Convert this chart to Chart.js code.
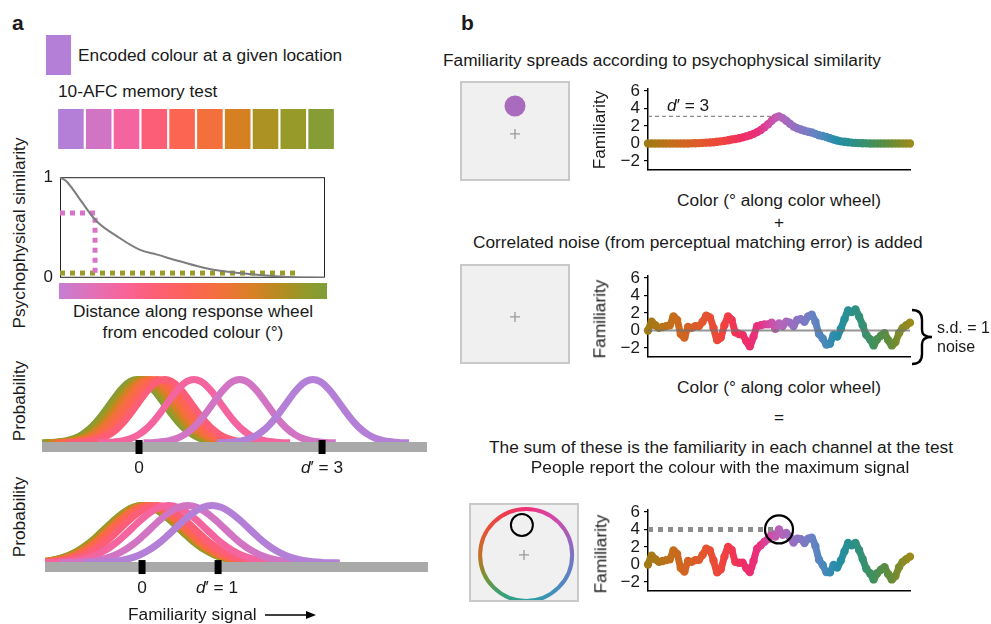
<!DOCTYPE html>
<html>
<head>
<meta charset="utf-8">
<script src="https://cdn.jsdelivr.net/npm/chart.js@4.4.1/dist/chart.umd.min.js"></script>
<style>
body{margin:0;background:#fff;width:991px;height:624px;overflow:hidden;position:relative;font-family:"Liberation Sans",Arial,sans-serif;color:#1a1a1a}
canvas{position:absolute}
.t{position:absolute;white-space:nowrap;font-size:17.3px;line-height:1}
.box{position:absolute;background:#f0f0f0;border:2px solid #c9c9c9;box-sizing:border-box}
</style>
</head>
<body>
<script>
// ---- panel a data ----
var swatchColours = ['#b47fd6','#d174c4','#f465a0','#fc5e77','#fd6553','#f3703c','#d68024','#ac9222','#979a28','#869c36'];
var simDistance = [0, 5, 15, 25, 38, 54, 66, 80, 100, 122, 151, 180];
var simValue = [1, 0.95, 0.75, 0.56, 0.42, 0.28, 0.23, 0.17, 0.093, 0.047, 0.01, 0];
var pinkGuideX = [0, 23.8, 23.8];
var pinkGuideY = [0.645, 0.645, 0.047];
var oliveGuideX = [0, 163];
var oliveGuideY = [0.047, 0.047];
// standard bell shape (z in sd units, height relative to peak)
var bellZ = [-3.5,-3.25,-3,-2.75,-2.5,-2.25,-2,-1.75,-1.5,-1.25,-1,-0.75,-0.5,-0.25,0,0.25,0.5,0.75,1,1.25,1.5,1.75,2,2.25,2.5,2.75,3,3.25,3.5];
var bellY = [0.0022,0.0051,0.0111,0.0228,0.0439,0.0796,0.1353,0.2163,0.3247,0.4578,0.6065,0.7548,0.8825,0.9692,1,0.9692,0.8825,0.7548,0.6065,0.4578,0.3247,0.2163,0.1353,0.0796,0.0439,0.0228,0.0111,0.0051,0.0022];
var meansD3 = [2.85, 1.65, 0.9, 0.42, 0.3, 0.2, 0.12, 0.06, 0.02, -0.03];
var meansD1 = [0.92, 0.6, 0.35, 0.2, 0.12, 0.08, 0.05, 0.03, 0.01, 0];
var ticksD3 = [0, 3];
var ticksD1 = [0, 1];

// ---- panel b data ----
var colourDeg = [-180,-175,-170,-165,-160,-155,-150,-145,-140,-135,-130,-125,-120,-115,-110,-105,-100,-95,-90,-85,-80,-75,-70,-65,-60,-55,-50,-45,-40,-35,-30,-25,-20,-15,-10,-5,0,5,10,15,20,25,30,35,40,45,50,55,60,65,70,75,80,85,90,95,100,105,110,115,120,125,130,135,140,145,150,155,160,165,170,175,180];
var signal = [0,0,0,0,0,0,0,0,0,0,0,0.01,0.02,0.03,0.05,0.07,0.1,0.12,0.15,0.2,0.25,0.3,0.38,0.45,0.52,0.6,0.7,0.82,0.95,1.1,1.3,1.55,1.85,2.2,2.6,2.95,3.1,2.9,2.6,2.25,1.95,1.75,1.6,1.45,1.35,1.25,1.1,0.95,0.85,0.75,0.6,0.45,0.35,0.25,0.2,0.15,0.1,0.07,0.05,0.03,0.02,0.01,0,0,0,0,0,0,0,0,0,0,0];
var noise = [0,1.0,0.6,0.3,0.4,0.5,0.6,1.6,1.2,-0.4,-0.8,0.4,0.3,0.5,0.5,1.0,1.7,1.5,0.3,-1.1,-0.8,0.6,1.6,1.2,-0.2,-0.4,-0.5,-1.2,-1.8,-0.7,0.5,0.6,0.7,0.7,0.9,0.2,0.8,0.5,1.0,0.9,0.5,1.2,1.3,1.0,1.6,1.8,1.0,-0.4,-0.9,-1.6,-1.5,-0.5,-0.7,0.2,1.3,2.3,2.1,2.4,1.6,0.6,-0.5,-1.0,-1.7,-1.0,-0.6,-0.3,-1.1,-1.7,-1.3,-0.3,0.3,0.6,0.9];
var total = [0,1.0,0.6,0.3,0.4,0.5,0.6,1.6,1.2,-0.4,-0.8,0.4,0.3,0.5,0.55,1.1,1.8,1.6,0.45,-0.9,-0.55,0.9,2.0,1.65,0.3,0.2,0.2,-0.4,-0.85,0.4,1.8,2.2,2.6,2.9,3.5,3.2,4.0,3.4,3.6,3.15,2.5,2.95,2.9,2.45,2.95,3.05,2.1,0.55,-0.05,-0.85,-0.9,-0.05,-0.35,0.45,1.5,2.45,2.2,2.47,1.65,0.63,-0.48,-1.0,-1.7,-1.0,-0.6,-0.3,-1.1,-1.7,-1.3,-0.3,0.3,0.6,0.9];
var familiarityTicks = [-2, 0, 2, 4, 6];
var hueStopPos = [0, 0.1, 0.2, 0.28, 0.36, 0.42, 0.46, 0.5, 0.56, 0.62, 0.67, 0.72, 0.78, 0.85, 0.92, 1];
var hueStopColour = ['#a07a14','#c86c1c','#e0582c','#f0443c','#f02c64','#e8307e','#d448a4','#b862b8','#9270c2','#6e80c4','#4a88bc','#248ea8','#2a9088','#3e9060','#628c3a','#9c8a1a'];
var wheelStopPos = [0, 0.125, 0.25, 0.35, 0.42, 0.5, 0.6, 0.68, 0.75, 0.85, 1];
var wheelStopColour = ['#7a74c4','#4a8cc0','#28a0a0','#3ca070','#7a9434','#c47024','#e8503a','#f03a50','#f03078','#d448aa','#7a74c4'];

Chart.defaults.font.family = '"Liberation Sans", Arial, sans-serif';
Chart.defaults.font.size = 17;
Chart.defaults.color = '#1a1a1a';
Chart.defaults.animation = false;
Chart.defaults.responsive = false;
Chart.defaults.events = [];
Chart.defaults.layout.autoPadding = false;
Chart.defaults.plugins.legend.display = false;
Chart.defaults.plugins.tooltip.enabled = false;

function makeCanvas(left, top, w, h){
	var cv = document.createElement('canvas');
	cv.width = w; cv.height = h;
	cv.style.left = left + 'px'; cv.style.top = top + 'px';
	cv.style.width = w + 'px'; cv.style.height = h + 'px';
	document.body.appendChild(cv);
	return cv;
}
function makeDiv(cls, left, top, w, h, extra){
	var d = document.createElement('div');
	d.className = cls;
	d.style.left = left + 'px'; d.style.top = top + 'px';
	d.style.width = w + 'px'; d.style.height = h + 'px';
	if (extra) d.style.cssText += extra;
	document.body.appendChild(d);
	return d;
}
function addText(html, x, y, align, extra){
	var d = document.createElement('div');
	d.className = 't';
	d.innerHTML = html;
	d.style.left = x + 'px'; d.style.top = y + 'px';
	var tf = 'translate(-50%,-50%)';
	if (align == 'l') tf = 'translate(0,-50%)';
	if (align == 'r90') tf = 'translate(-50%,-50%) rotate(-90deg)';
	d.style.transform = tf;
	if (extra) d.style.cssText += extra;
	document.body.appendChild(d);
}
function pts(xs, ys){
	return xs.map(function(x, i){ return {x: x, y: ys[i]}; });
}

// ================= panel a =================
addText('a', 12, 22, 'l', 'font-weight:bold;font-size:21px');
makeDiv('box', 46, 35, 25, 40, 'background:#b47fd6;border:none');
addText('Encoded colour at a given location', 78, 56, 'l');
addText('10-AFC memory test', 58, 92, 'l');

new Chart(makeCanvas(57, 109, 278, 40), {
	type: 'bar',
	data: {
		labels: swatchColours.map(function(c, i){ return i + 1; }),
		datasets: [{data: swatchColours.map(function(){ return 1; }), backgroundColor: swatchColours, barPercentage: 0.92, categoryPercentage: 1}]
	},
	options: {devicePixelRatio: 1, scales: {x: {display: false}, y: {display: false, min: 0, max: 1}}}
});

// colour bar under the similarity axis
makeDiv('box', 59, 283, 268, 16, 'border:none;background:linear-gradient(to right,#c47fd4 0%,#e070b8 12%,#f8649a 24%,#fd5f7a 34%,#fd6258 48%,#f2703c 60%,#d98026 72%,#b08e20 84%,#8f9a2c 93%,#7f9e3a 100%)');

var boxPlugin = {
	id: 'boxFrame',
	beforeDatasetsDraw: function(c){
		var a = c.chartArea, g = c.ctx;
		g.save();
		g.strokeStyle = '#222'; g.lineWidth = 1;
		g.strokeRect(a.left + 0.5, a.top + 0.5, a.right - a.left - 1, a.bottom - a.top - 1);
		g.restore();
	}
};

new Chart(makeCanvas(30, 160, 297, 135), {
	type: 'line',
	data: {datasets: [
		{data: pts(simDistance, simValue), borderColor: '#7d7d7d', borderWidth: 2, pointRadius: 0, tension: 0.4, order: 1},
		{data: pts(pinkGuideX, pinkGuideY), borderColor: '#d873c8', borderWidth: 5, borderDash: [5, 5], pointRadius: 0, order: 2, clip: false},
		{data: pts(oliveGuideX, oliveGuideY), borderColor: '#9b9b2a', borderWidth: 5, borderDash: [5, 5], pointRadius: 0, order: 3, clip: false}
	]},
	options: {
		devicePixelRatio: 1,
		layout: {padding: {top: 16, right: 2, bottom: 12}},
		scales: {
			x: {type: 'linear', min: 0, max: 180, display: false},
			y: {min: 0, max: 1,
				afterBuildTicks: function(s){ s.ticks = [{value: 0}, {value: 1}]; },
				ticks: {padding: 7, autoSkip: false},
				grid: {display: false, drawTicks: false, tickLength: 0}, border: {display: false},
				afterFit: function(s){ s.width = 30; }}
		}
	},
	plugins: [boxPlugin]
});

addText('Psychophysical similarity', 20, 233, 'r90');
addText('Distance along response wheel', 193, 312, 'c');
addText('from encoded colour (°)', 193, 333, 'c');

function probChart(left, top, w, h, xr, yr, barLevel, means, sd, tickVals){
	var ds = means.map(function(m, i){
		return {data: pts(bellZ.map(function(z){ return m + z * sd; }), bellY), borderColor: swatchColours[i],
			borderWidth: 7, pointRadius: 0, tension: 0.4, order: i + 1, clip: false};
	});
	// grey axis bar sits over the lower half of the curve tails
	ds.push({data: pts(xr, [barLevel, barLevel]), borderColor: '#a9a9a9', borderWidth: 10, pointRadius: 0, order: -1, clip: false});
	ds.push({data: pts(tickVals, tickVals.map(function(){ return barLevel; })), showLine: false, pointStyle: 'line', pointRotation: 90,
		pointRadius: 7, pointBorderWidth: 7, pointBorderColor: '#000', order: -2, clip: false});
	new Chart(makeCanvas(left, top, w, h), {
		type: 'line',
		data: {datasets: ds},
		options: {devicePixelRatio: 1, scales: {x: {type: 'linear', min: xr[0], max: xr[1], display: false}, y: {min: yr[0], max: yr[1], display: false}}}
	});
}

probChart(42, 368, 385, 92, [-1.59, 4.72], [-0.268, 1.181], -0.063, meansD3, 0.45, ticksD3);
addText('Probability', 20, 401, 'r90');
addText('0', 139, 468, 'c');
addText('<i>d</i>\u2032 = 3', 322, 468, 'c');

probChart(45, 495, 383, 90, [-1.276, 3.76], [-0.382, 1.183], -0.07, meansD1, 0.48, ticksD1);
addText('Probability', 20, 517, 'r90');
addText('0', 142, 588, 'c');
addText('<i>d</i>\u2032 = 1', 217, 588, 'c');
addText('Familiarity signal', 128, 615, 'l');
var arrow = document.createElement('div');
arrow.innerHTML = '<svg width="60" height="14" style="position:absolute;left:262px;top:608px"><line x1="3" y1="7" x2="50" y2="7" stroke="#000" stroke-width="1.3"/><path d="M44,3 L54,7 L44,11 Z" fill="#000"/></svg>';
document.body.appendChild(arrow);

// ================= panel b =================
addText('b', 461, 22, 'l', 'font-weight:bold;font-size:21px');

function hueGradient(ctx){
	var c = ctx.chart;
	if (!c.chartArea) return '#b862b8';
	var x0 = c.scales.x.getPixelForValue(-180), x1 = c.scales.x.getPixelForValue(180);
	var g = c.ctx.createLinearGradient(x0, 0, x1, 0);
	hueStopPos.forEach(function(p, i){ g.addColorStop(p, hueStopColour[i]); });
	return g;
}

function familiarityChart(top, values, extras){
	var ds = [{data: pts(colourDeg, values), borderColor: hueGradient, borderWidth: 7, pointRadius: 4.2,
		pointBackgroundColor: hueGradient, pointBorderWidth: 0, tension: 0.25, order: 5, clip: false}];
	new Chart(makeCanvas(598, top, 316, 109), {
		type: 'line',
		data: {datasets: ds.concat(extras)},
		options: {
			devicePixelRatio: 1,
			layout: {padding: {top: 10, right: 4, bottom: 2}},
			scales: {
				x: {type: 'linear', min: -180, max: 180, ticks: {display: false}, grid: {display: false},
					border: {color: '#000', width: 1.5}, afterFit: function(s){ s.height = 0; }},
				y: {min: -3, max: 6.2,
					afterBuildTicks: function(s){ s.ticks = familiarityTicks.map(function(v){ return {value: v}; }); },
					ticks: {padding: 4, autoSkip: false, callback: function(v){ return String(v).replace('-', '\u2212'); }},
					grid: {drawOnChartArea: false, tickLength: 4, color: '#000', lineWidth: 1.2},
					border: {color: '#000', width: 1.5},
					afterFit: function(s){ s.width = 50; }}
			}
		}
	});
}

function boxChart(left, top, w, h, datasets){
	makeDiv('box', left, top, w, h);
	new Chart(makeCanvas(left + 2, top + 2, w - 4, h - 4), {
		type: 'scatter',
		data: {datasets: datasets},
		options: {devicePixelRatio: 1, scales: {x: {min: -1, max: 1, display: false}, y: {min: -1, max: 1, display: false}}}
	});
}
var fixationCross = function(x, y){
	return {data: [{x: x, y: y}], pointStyle: 'cross', pointRadius: 5, pointBorderColor: '#9a9a9a', pointBorderWidth: 1.3, order: 2, clip: false};
};

// row 1: signal
addText('Familiarity spreads according to psychophysical similarity', 443, 61, 'l');
boxChart(460, 81, 110, 100, [
	{data: [{x: 0, y: 0.52}], pointRadius: 10.5, pointBackgroundColor: '#a86bbd', pointBorderWidth: 0, order: 1},
	fixationCross(0, -0.06)
]);
familiarityChart(75, signal, [
	{data: [{x: -180, y: 3.1}, {x: 0, y: 3.1}], borderColor: '#8a8a8a', borderWidth: 1.2, borderDash: [4, 3], pointRadius: 0, order: 6}
]);
addText('Familiarity', 600, 130, 'r90');
addText('<i>d</i>\u2032 = 3', 667, 106, 'l');
addText('Color (° along color wheel)', 779, 201, 'c');
addText('+', 779, 223, 'c');

// row 2: noise
addText('Correlated noise (from perceptual matching error) is added', 473, 243, 'l');
boxChart(460, 264, 110, 100, [fixationCross(0, -0.06)]);
familiarityChart(262, noise, [
	{data: [{x: -180, y: 0}, {x: 180, y: 0}], borderColor: 'rgba(115,115,115,0.75)', borderWidth: 2, pointRadius: 0, order: 1, clip: false}
]);
addText('Familiarity', 600, 319, 'r90');
addText('Color (° along color wheel)', 779, 388, 'c');
var brace = document.createElement('div');
brace.innerHTML = '<svg width="30" height="62" style="position:absolute;left:908px;top:306px"><path d="M4,4 Q14,4 14,14 L14,24 Q14,31 24,31 Q14,31 14,38 L14,48 Q14,58 4,58" fill="none" stroke="#000" stroke-width="2.4"/></svg>';
document.body.appendChild(brace);
addText('s.d. = 1', 937, 328, 'l', 'font-size:16px');
addText('noise', 937, 347, 'l', 'font-size:16px');
addText('=', 779, 418, 'c');

// row 3: sum
addText('The sum of these is the familiarity in each channel at the test', 721, 448, 'c');
addText('People report the colour with the maximum signal', 720, 468, 'c');
boxChart(469, 503, 110, 99, [
	{data: [{x: -0.04, y: 0.58}], pointRadius: 11, pointBorderWidth: 2, pointBorderColor: '#000', pointBackgroundColor: 'rgba(0,0,0,0)', order: 1},
	fixationCross(0, -0.05),
	{data: [{x: 0.04, y: -0.05}], pointRadius: 46, pointBorderWidth: 4, pointBackgroundColor: 'rgba(0,0,0,0)', order: 3, clip: false,
		pointBorderColor: function(ctx){
			var c = ctx.chart;
			if (!c.chartArea || !c.ctx.createConicGradient) return '#c060b0';
			var g = c.ctx.createConicGradient(0, c.scales.x.getPixelForValue(0.04), c.scales.y.getPixelForValue(-0.05));
			wheelStopPos.forEach(function(p, i){ g.addColorStop(p, wheelStopColour[i]); });
			return g;
		}}
]);
familiarityChart(496, total, [
	{data: [{x: -180, y: 4}, {x: -8, y: 4}], borderColor: '#8c8c8c', borderWidth: 5, borderDash: [5, 5], pointRadius: 0, order: 2},
	{data: [{x: 0, y: 4}], showLine: false, pointRadius: 14, pointBorderWidth: 2.2, pointBorderColor: '#000', pointBackgroundColor: 'rgba(0,0,0,0)', order: 1, clip: false}
]);
addText('Familiarity', 601, 554, 'r90');
</script>
</body>
</html>
